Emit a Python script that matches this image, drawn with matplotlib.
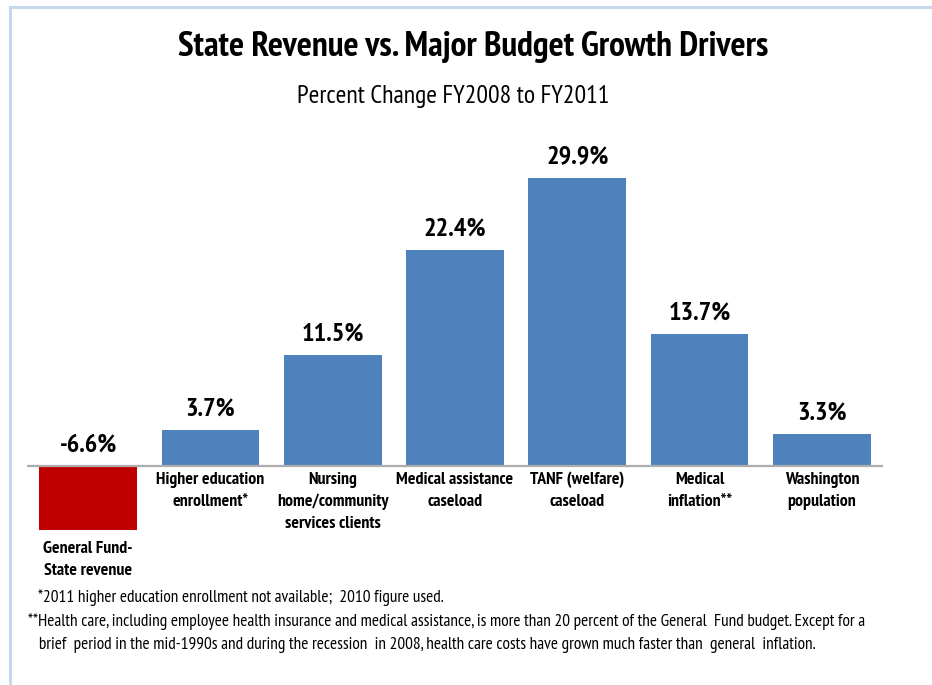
import matplotlib
matplotlib.use("Agg")
import matplotlib.pyplot as plt
from matplotlib.lines import Line2D

plt.rcParams['font.family'] = ['PT Sans Narrow', 'DejaVu Sans']

categories = [
    "General Fund-\nState revenue",
    "Higher education\nenrollment*",
    "Nursing\nhome/community\nservices clients",
    "Medical assistance\ncaseload",
    "TANF (welfare)\ncaseload",
    "Medical\ninflation**",
    "Washington\npopulation",
]
pct_change = [-6.6, 3.7, 11.5, 22.4, 29.9, 13.7, 3.3]
value_labels = ["-6.6%", "3.7%", "11.5%", "22.4%", "29.9%", "13.7%", "3.3%"]

footnotes = [
    "*2011 higher education enrollment not available;  2010 figure used.",
    "**Health care, including employee health insurance and medical assistance, is more than 20 percent of the General  Fund budget. Except for a",
    "   brief  period in the mid-1990s and during the recession  in 2008, health care costs have grown much faster than  general  inflation.",
]

BLUE = "#4F81BD"
RED = "#C00000"
FRAME = "#C6D9EC"

fig = plt.figure(figsize=(9.32, 6.85), dpi=100)
ax = fig.add_axes([27 / 932, 1 - 562.3 / 685, 856 / 932, 404.3 / 685])

x = list(range(len(categories)))
colors = [RED if v < 0 else BLUE for v in pct_change]
ax.bar(x, pct_change, width=0.8, color=colors, zorder=2)
ax.axhline(0, color="#ADADAD", linewidth=1.6, zorder=3)

ax.set_xlim(-0.5, len(categories) - 0.5)
ax.set_ylim(-10, 32)
ax.axis("off")

# value labels above positive bars; the negative one sits above the baseline too
for xi, v, lab in zip(x, pct_change, value_labels):
    y = v if v > 0 else 0
    ax.annotate(lab, (xi, y), xytext=(0, 7), textcoords="offset points",
                ha="center", va="bottom", fontsize=19, fontweight="bold")

# category names under the baseline, or under the bar when it is negative
for xi, v, name in zip(x, pct_change, categories):
    y = v if v < 0 else 0
    off = -8.5 if v < 0 else -4
    ax.annotate(name, (xi, y), xytext=(0, off), textcoords="offset points",
                ha="center", va="top", fontsize=12.8, fontweight="bold",
                linespacing=1.5)

fig.text(473 / 932, 1 - 47 / 685, "State Revenue vs. Major Budget Growth Drivers",
         ha="center", va="center", fontsize=25.5, fontweight="bold")
fig.text(453 / 932, 1 - 96 / 685, "Percent Change FY2008 to FY2011",
         ha="center", va="center", fontsize=18.5)

fig.text(38 / 932, 1 - 598 / 685, footnotes[0], ha="left", va="center", fontsize=12.4)
fig.text(28 / 932, 1 - 622 / 685, footnotes[1], ha="left", va="center", fontsize=12.4)
fig.text(28 / 932, 1 - 645 / 685, footnotes[2], ha="left", va="center", fontsize=12.4)

# thin light-blue frame along the top and left edges
fig.add_artist(Line2D([9.5 / 932, 1], [1 - 7 / 685, 1 - 7 / 685],
                      transform=fig.transFigure, color=FRAME, linewidth=2.2))
fig.add_artist(Line2D([9.5 / 932, 9.5 / 932], [0, 1 - 7 / 685],
                      transform=fig.transFigure, color=FRAME, linewidth=2.2))

fig.savefig("out.png", dpi=100)
